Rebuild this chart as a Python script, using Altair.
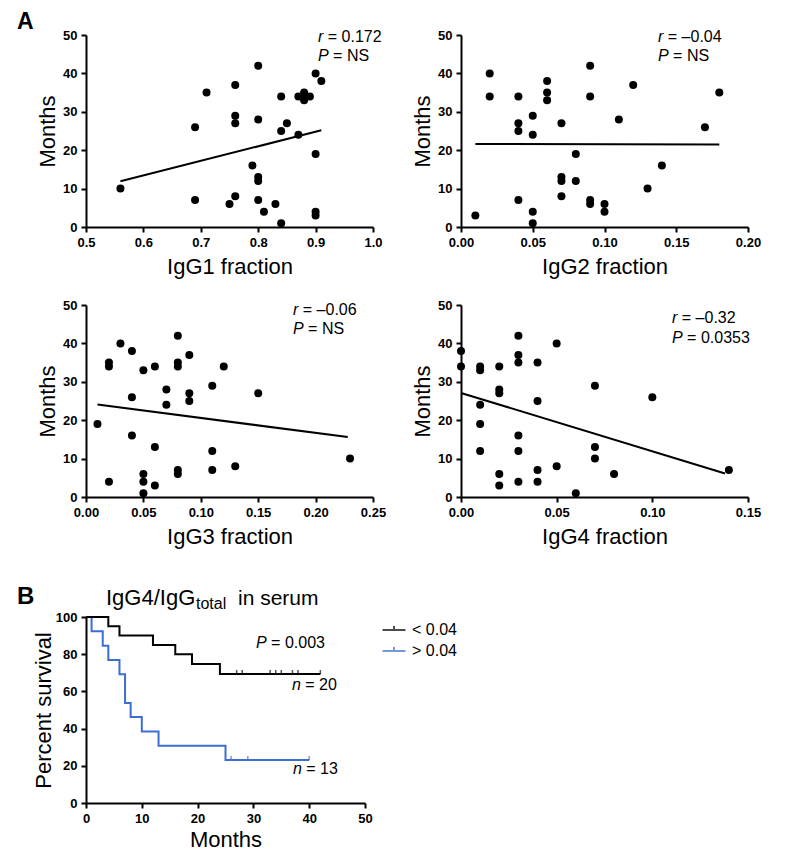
import altair as alt
import pandas as pd

FONT = "Liberation Sans"

# ---------------- Panel A data (fraction, months) ----------------
igg1_frac = [0.56, 0.69, 0.69, 0.71, 0.75, 0.76, 0.76, 0.76, 0.76, 0.79, 0.80, 0.80,
             0.80, 0.80, 0.80, 0.81, 0.83, 0.84, 0.84, 0.84, 0.85, 0.87, 0.87, 0.88,
             0.88, 0.88, 0.89, 0.90, 0.90, 0.90, 0.90, 0.91]
igg1_months = [10, 26, 7, 35, 6, 37, 29, 27, 8, 16, 42, 28,
               13, 12, 7, 4, 6, 34, 25, 1, 27, 34, 24, 35,
               34, 33, 34, 40, 19, 4, 3, 38]
igg1_fit_x = [0.56, 0.91]
igg1_fit_y = [11.9, 25.2]

igg2_frac = [0.01, 0.02, 0.02, 0.04, 0.04, 0.04, 0.04, 0.05, 0.05, 0.05, 0.05, 0.06,
             0.06, 0.06, 0.07, 0.07, 0.07, 0.07, 0.08, 0.08, 0.09, 0.09, 0.09, 0.09,
             0.10, 0.10, 0.11, 0.12, 0.13, 0.14, 0.17, 0.18]
igg2_months = [3, 40, 34, 34, 27, 25, 7, 29, 24, 4, 1, 38,
               35, 33, 27, 13, 12, 8, 19, 12, 42, 34, 7, 6,
               6, 4, 28, 37, 10, 16, 26, 35]
igg2_fit_x = [0.01, 0.18]
igg2_fit_y = [21.6, 21.5]

igg3_frac = [0.01, 0.02, 0.02, 0.02, 0.03, 0.04, 0.04, 0.04, 0.05, 0.05, 0.05, 0.05,
             0.06, 0.06, 0.06, 0.07, 0.07, 0.08, 0.08, 0.08, 0.08, 0.08, 0.09, 0.09,
             0.09, 0.11, 0.11, 0.11, 0.12, 0.13, 0.15, 0.23]
igg3_months = [19, 35, 34, 4, 40, 38, 26, 16, 33, 6, 4, 1,
               34, 13, 3, 28, 24, 42, 35, 34, 7, 6, 37, 27,
               25, 29, 12, 7, 34, 8, 27, 10]
igg3_fit_x = [0.01, 0.228]
igg3_fit_y = [24.1, 15.6]

igg4_frac = [0.00, 0.00, 0.01, 0.01, 0.01, 0.01, 0.01, 0.02, 0.02, 0.02, 0.02, 0.02,
             0.03, 0.03, 0.03, 0.03, 0.03, 0.03, 0.04, 0.04, 0.04, 0.04, 0.05, 0.05,
             0.06, 0.07, 0.07, 0.07, 0.08, 0.10, 0.14]
igg4_months = [38, 34, 34, 33, 24, 19, 12, 34, 28, 27, 6, 3,
               42, 37, 35, 16, 12, 4, 35, 25, 7, 4, 40, 8,
               1, 29, 13, 10, 6, 26, 7]
igg4_fit_x = [0.0, 0.138]
igg4_fit_y = [27.1, 6.1]

months_ticks = [0, 10, 20, 30, 40, 50]

# ---------------- Panel B data (Kaplan-Meier) ----------------
groups = ["< 0.04", "> 0.04"]
group_colors = ["#000000", "#3C6ED2"]

low_t = [0, 4, 6, 12, 16, 19, 24, 42]
low_s = [100, 95, 90, 85, 80, 74.7, 69.3, 69.3]
low_cens_t = [27, 28, 33, 34, 35, 37, 38, 42]
low_cens_s = [69.3] * 8

high_t = [0, 1, 3, 4, 6, 7, 8, 10, 13, 25, 40]
high_s = [100, 92.3, 84.6, 76.9, 69.2, 53.8, 46.2, 38.5, 30.8, 23.1, 23.1]
high_cens_t = [26, 29, 40]
high_cens_s = [23.1] * 3

surv_x_ticks = [0, 10, 20, 30, 40, 50]
surv_y_ticks = [0, 20, 40, 60, 80, 100]

ONE = pd.DataFrame({"d": [0]})

SURV_TOP = 42  # extra gap above the survival plot inside its grid cell


def label(x, y, text, size=16, style="normal", weight="normal", align="left"):
    return alt.Chart(ONE).mark_text(
        x=x, y=y, text=text, font=FONT, fontSize=size, fontStyle=style,
        fontWeight=weight, align=align, baseline="alphabetic", color="black")


def stat(x, y, letter, rest, letter_w):
    return [label(x, y, letter, style="italic"), label(x + letter_w, y, rest)]


def scatter_panel(fx, fy, fit_x, fit_y, domain, ticks, fmt, xtitle, annots, extra=None):
    pts = pd.DataFrame({"x": fx, "y": fy})
    fit = pd.DataFrame({"x": fit_x, "y": fit_y})
    xenc = alt.X("x:Q", scale=alt.Scale(domain=domain, nice=False, zero=False),
                 axis=alt.Axis(values=ticks, tickCount=len(ticks), format=fmt,
                               title=xtitle, titlePadding=7))
    yenc = alt.Y("y:Q", scale=alt.Scale(domain=[0, 50], nice=False),
                 axis=alt.Axis(values=months_ticks, tickCount=len(months_ticks),
                               title="Months", titlePadding=3))
    p = alt.Chart(pts).mark_circle(size=64, color="black", opacity=1).encode(x=xenc, y=yenc)
    l = alt.Chart(fit).mark_line(color="black", strokeWidth=2).encode(x="x:Q", y="y:Q")
    layers = [p, l] + annots + (extra or [])
    return alt.layer(*layers).properties(width=287, height=192)


p1 = scatter_panel(igg1_frac, igg1_months, igg1_fit_x, igg1_fit_y, [0.5, 1.0],
                   [0.5, 0.6, 0.7, 0.8, 0.9, 1.0], ".1f", "IgG1 fraction",
                   stat(232, 7, "r", "= 0.172", 9.8) + stat(232, 26, "P", "= NS", 15.1),
                   extra=[label(-69, -6.5, "A", size=23, weight="bold")])
p2 = scatter_panel(igg2_frac, igg2_months, igg2_fit_x, igg2_fit_y, [0, 0.2],
                   [0, 0.05, 0.10, 0.15, 0.20], ".2f", "IgG2 fraction",
                   stat(197, 7, "r", "= \u20130.04", 9.8) + stat(197, 26, "P", "= NS", 15.1))
p3 = scatter_panel(igg3_frac, igg3_months, igg3_fit_x, igg3_fit_y, [0, 0.25],
                   [0, 0.05, 0.10, 0.15, 0.20, 0.25], ".2f", "IgG3 fraction",
                   stat(207, 10, "r", "= \u20130.06", 9.8) + stat(207, 29, "P", "= NS", 15.1))
p4 = scatter_panel(igg4_frac, igg4_months, igg4_fit_x, igg4_fit_y, [0, 0.15],
                   [0, 0.05, 0.10, 0.15], ".2f", "IgG4 fraction",
                   stat(211, 18, "r", "= \u20130.32", 9.8) + stat(211, 38, "P", "= 0.0353", 15.1))

# ---------------- Survival panel ----------------
lines = pd.DataFrame({
    "t": low_t + high_t,
    "s": low_s + high_s,
    "g": [groups[0]] * len(low_t) + [groups[1]] * len(high_t),
})
cens = pd.DataFrame({
    "t": low_cens_t + high_cens_t,
    "s": low_cens_s + high_cens_s,
    "g": [groups[0]] * len(low_cens_t) + [groups[1]] * len(high_cens_t),
})

SURV_H = 186
sx = alt.X("t:Q", scale=alt.Scale(domain=[0, 50], nice=False),
           axis=alt.Axis(values=surv_x_ticks, tickCount=len(surv_x_ticks),
                         title="Months", titlePadding=4))
sy = alt.Y("s:Q", scale=alt.Scale(domain=[0, 100], nice=False,
                                  range=[SURV_TOP + SURV_H, SURV_TOP]),
           axis=alt.Axis(values=surv_y_ticks, tickCount=len(surv_y_ticks),
                         title="Percent survival", titlePadding=0))
scol = alt.Color("g:N", scale=alt.Scale(domain=groups, range=group_colors),
                 legend=alt.Legend(title=None, orient="none", legendX=300, legendY=SURV_TOP + 5,
                                   symbolType="M-2,0H2M0,0V-0.7", symbolSize=132,
                                   symbolStrokeWidth=2, symbolFillColor="transparent",
                                   labelFont=FONT, labelFontSize=16, labelColor="black",
                                   labelOffset=10, rowPadding=4, padding=0))

blue_line = alt.Chart(lines).transform_filter(alt.datum.g == groups[1]).mark_line(
    interpolate="step-after", strokeWidth=2).encode(x=sx, y=sy, color=scol)
black_line = alt.Chart(lines).transform_filter(alt.datum.g == groups[0]).mark_line(
    interpolate="step-after", strokeWidth=2).encode(x="t:Q", y="s:Q", color="g:N")
ticks = alt.Chart(cens).mark_tick(orient="vertical", size=4, thickness=1.5, yOffset=-2).encode(
    x="t:Q", y="s:Q", color="g:N")

T = SURV_TOP
surv_labels = (
    stat(170, T + 31, "P", "= 0.003", 15.1)
    + stat(206, T + 73, "n", "= 20", 13.3)
    + stat(207, T + 157, "n", "= 13", 13.3)
    + [
        label(-69, T - 13, "B", size=24, weight="bold"),
        label(20, T - 12, "IgG4/IgG", size=22),
        label(110, T - 8, "total", size=16),
        label(152, T - 12, "in serum", size=21),
    ]
)

surv = alt.layer(blue_line, black_line, ticks, *surv_labels).properties(
    width=279, height=SURV_TOP + SURV_H)

chart = alt.concat(
    p1, p2, p3, p4, surv, columns=2, bounds="flush",
    spacing={"row": 78, "column": 88}
).resolve_scale(color="independent").resolve_legend(color="independent").properties(
    padding={"left": 9, "top": 2, "right": 5, "bottom": 5}
).configure_axis(
    domainColor="black", domainWidth=2, tickColor="black", tickWidth=2, tickSize=5,
    labelFont=FONT, labelFontWeight="bold", labelFontSize=13, labelColor="black",
    labelPadding=4, labelOverlap=False, labelFlush=False,
    titleFont=FONT, titleFontWeight="normal", titleFontSize=22,
    titleColor="black", grid=False
).configure_view(stroke=None)

chart.save("out.html", embed_options={"renderer": "svg", "actions": False})
